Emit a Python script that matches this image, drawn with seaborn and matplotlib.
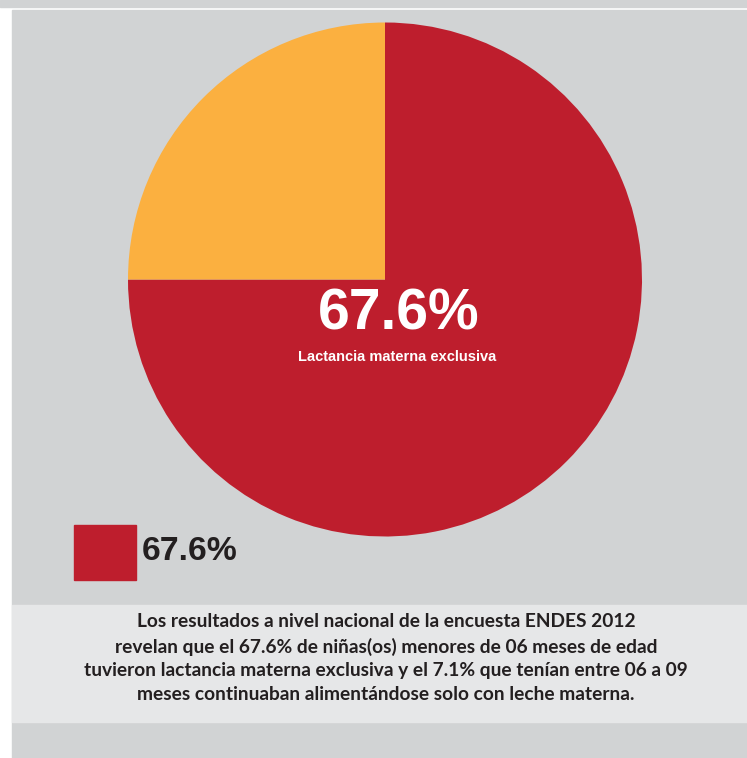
import matplotlib
matplotlib.use("Agg")
import matplotlib.pyplot as plt
import seaborn as sns
from matplotlib.patches import Rectangle

sns.set_theme(style="white")
plt.rcParams['font.family'] = ['Liberation Sans', 'DejaVu Sans']

# data
categories = ["Lactancia materna exclusiva", "Otros"]
shares = [75, 25]
colors = ["#BE1E2D", "#FBB040"]
center_value = "67.6%"
center_label = "Lactancia materna exclusiva"
legend_value = "67.6%"
caption = ("Los resultados a nivel nacional de la encuesta ENDES 2012\n"
           "revelan que el 67.6% de niñas(os) menores de 06 meses de edad\n"
           "tuvieron lactancia materna exclusiva y el 7.1% que tenían entre 06 a 09\n"
           "meses continuaban alimentándose solo con leche materna.")

W, H = 747, 758
fig = plt.figure(figsize=(W / 100, H / 100), dpi=100, facecolor="white")

def fx(px):
    return px / W

def fy(py):
    return 1 - py / H

GRAY = "#D1D3D4"
LIGHT = "#E6E7E8"
# background panels
fig.patches.append(Rectangle((0, fy(7)), 1, 7 / H, transform=fig.transFigure, color=GRAY, zorder=0))
fig.patches.append(Rectangle((fx(12), 0), 1 - fx(12), fy(10), transform=fig.transFigure, color=GRAY, zorder=0))
fig.patches.append(Rectangle((fx(12), fy(722)), 1 - fx(12), (722 - 605) / H, transform=fig.transFigure, color=LIGHT, zorder=0))

# pie
cx, cy, r = 385, 279.5, 257
ax = fig.add_axes([fx(cx - r), fy(cy + r), 2 * r / W, 2 * r / H], zorder=2)
ax.pie(shares, colors=colors, startangle=90, counterclock=False,
       wedgeprops=dict(linewidth=0))
ax.set_xlim(-1, 1)
ax.set_ylim(-1, 1)
ax.set_aspect("auto")
ax.axis("off")
ax.patch.set_alpha(0)

# center text
ax.text(0.5 + (399 - cx) / (2 * r), 0.5 - (314 - cy) / (2 * r), center_value, transform=ax.transAxes,
        color="white", fontsize=41, fontweight="bold", ha="center", va="center")
ax.text(0.5 + (397 - cx) / (2 * r), 0.5 - (357 - cy) / (2 * r), center_label, transform=ax.transAxes,
        color="white", fontsize=10.5, fontweight="bold", ha="center", va="center")

# legend
fig.patches.append(Rectangle((fx(74), fy(580)), 62 / W, 55 / H, transform=fig.transFigure,
                             color=colors[0], zorder=1))
fig.text(fx(142), fy(552), legend_value, color="#231F20", fontsize=24.3, fontweight="bold",
         ha="left", va="center")

# caption
fig.text(fx(386), fy(658), caption, color="#231F20", fontsize=13.8, fontweight="bold",
         ha="center", va="center", linespacing=1.47, family=["Lato", "DejaVu Sans"])

fig.savefig("out.png", dpi=100, facecolor=fig.get_facecolor())
